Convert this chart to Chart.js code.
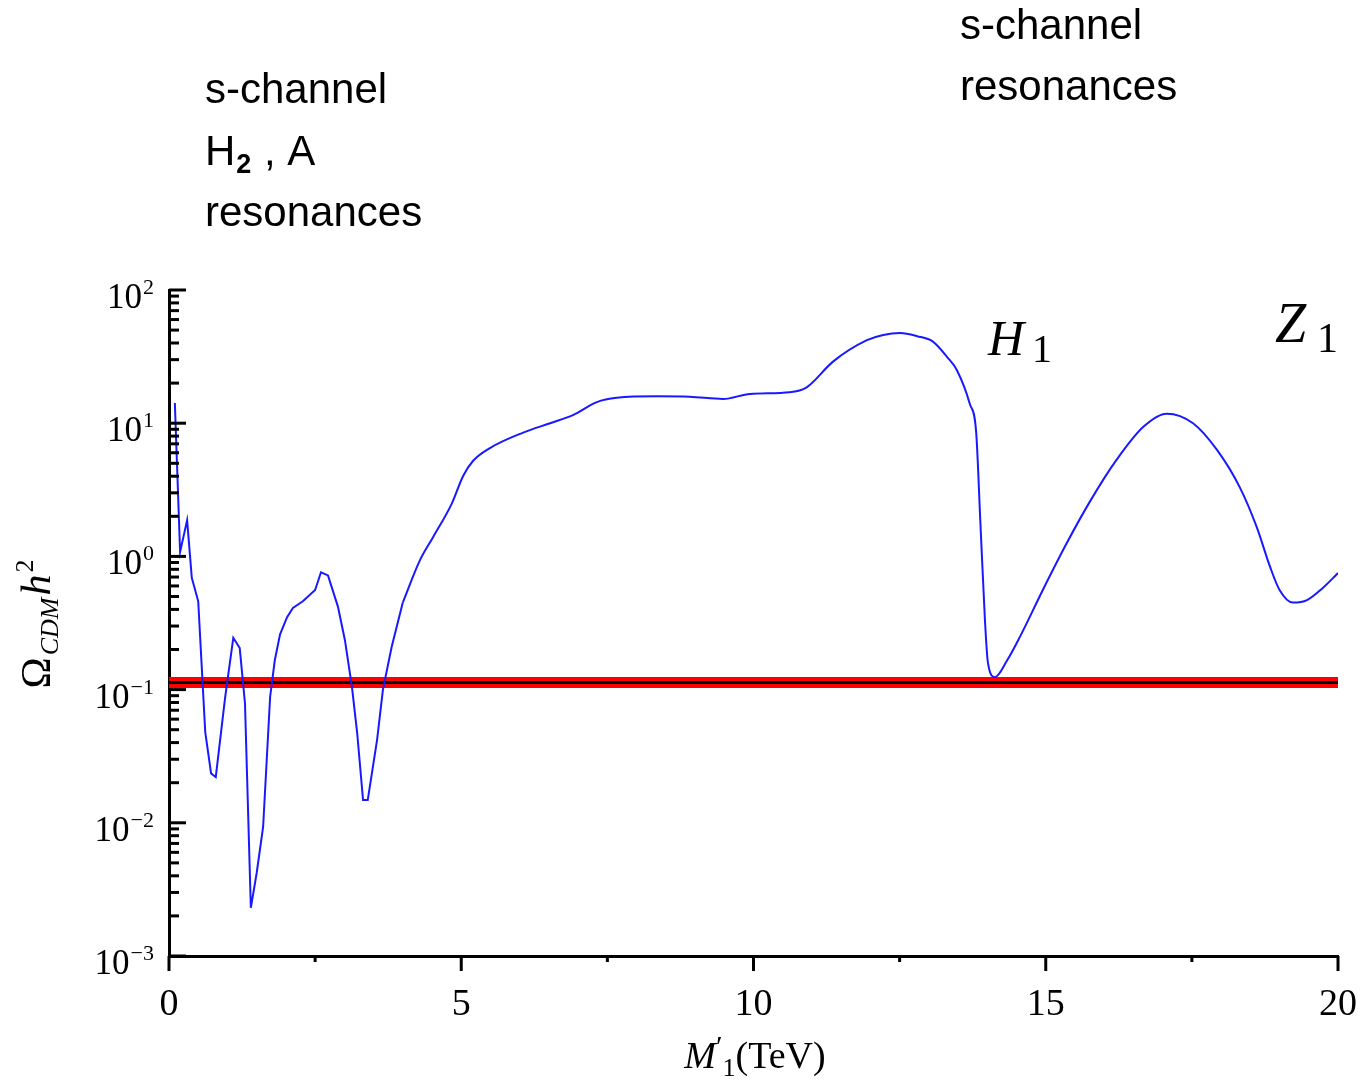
<!DOCTYPE html>
<html>
<head>
<meta charset="utf-8">
<script src="https://cdn.jsdelivr.net/npm/chart.js@4.4.0/dist/chart.umd.min.js"></script>
<style>
  html, body { margin: 0; padding: 0; background: #fff; }
  #wrap { width: 1371px; height: 1081px; position: relative; }
</style>
</head>
<body>
<div id="wrap"><canvas id="myChart" width="1371" height="1081"></canvas></div>
<script>
"use strict";

// relic density vs M1' (TeV)
const mass = [0.10, 0.19, 0.31, 0.39, 0.50, 0.62, 0.72, 0.80, 0.96, 1.10, 1.21, 1.30, 1.40, 1.50, 1.61,
    1.73, 1.81, 1.90, 2.02, 2.12, 2.29, 2.50, 2.60, 2.72, 2.89, 3.01, 3.13, 3.22, 3.32, 3.40, 3.56,
    3.66, 3.81, 4.00, 4.29, 4.52, 4.84, 5.03, 5.20, 5.49, 6.06, 6.52, 6.91, 7.32, 7.66, 8.35, 8.91,
    9.48, 9.94, 10.62, 10.91, 11.36, 11.94, 12.22, 12.51, 12.80, 13.07, 13.31, 13.48, 13.70, 13.81,
    13.88, 13.96, 14.01, 14.13, 14.34, 14.56, 14.95, 15.36, 15.76, 16.21, 16.67, 17.07, 17.52, 17.93,
    18.32, 18.61, 18.84, 19.00, 19.23, 19.47, 19.74, 20.00];
const omega = [14.2, 1.08, 1.87, 0.69, 0.46, 0.048, 0.0235, 0.022, 0.087, 0.245, 0.205, 0.079, 0.0023, 0.0042, 0.0093,
    0.088, 0.166, 0.26, 0.35, 0.41, 0.46, 0.56, 0.76, 0.72, 0.42, 0.235, 0.105, 0.047, 0.0148, 0.0148, 0.042,
    0.10, 0.21, 0.45, 0.93, 1.4, 2.5, 4.0, 5.2, 6.5, 8.5, 10, 11.5, 14.4, 15.5, 15.9, 15.8,
    15.2, 16.6, 17.1, 18.6, 29, 42, 46, 47.5, 45, 41, 31.5, 25, 14, 8.5,
    1.87, 0.33, 0.16, 0.124, 0.166, 0.25, 0.56, 1.26, 2.6, 5.3, 9.4, 11.8, 10, 6.3,
    3.3, 1.66, 0.83, 0.56, 0.45, 0.47, 0.58, 0.75];
// the scan is jagged below ~4 TeV and smooth above
const smoothFrom = 33;

// WMAP band
const wmapRange = [0, 20];
const wmapValue = 0.113;

const xMajorTicks = [0, 5, 10, 15, 20];
const xMinorTicks = [2.5, 7.5, 12.5, 17.5];
const yMajorTicks = [0.001, 0.01, 0.1, 1, 10, 100];
const yTickExps = ["\u22123", "\u22122", "\u22121", "0", "1", "2"];

const serif = '"Liberation Serif", "DejaVu Serif", serif';
const sans = '"Liberation Sans", Arial, sans-serif';

const axesPlugin = {
    id: "sciAxes",
    afterDraw(chart) {
        const ctx = chart.ctx;
        const xs = chart.scales.x, ys = chart.scales.y;
        const left = chart.chartArea.left, bottom = chart.chartArea.bottom;
        ctx.save();
        ctx.strokeStyle = "#000";
        ctx.lineWidth = 3;
        ctx.lineCap = "butt";
        function seg(x1, y1, x2, y2) {
            ctx.beginPath(); ctx.moveTo(x1, y1); ctx.lineTo(x2, y2); ctx.stroke();
        }
        // y ticks (inward)
        yMajorTicks.forEach(v => {
            const py = ys.getPixelForValue(v);
            seg(left, py, left + 17, py);
        });
        for (let d = -3; d < 2; d++) {
            for (let m = 2; m <= 9; m++) {
                const py = ys.getPixelForValue(m * Math.pow(10, d));
                seg(left, py, left + 10, py);
            }
        }
        // x ticks (downward)
        xMajorTicks.forEach(v => {
            const px = xs.getPixelForValue(v);
            seg(px, bottom, px, bottom + 15);
        });
        xMinorTicks.forEach(v => {
            const px = xs.getPixelForValue(v);
            seg(px, bottom, px, bottom + 6);
        });

        ctx.fillStyle = "#000";
        ctx.textBaseline = "alphabetic";
        // x tick labels
        ctx.font = "38px " + serif;
        ctx.textAlign = "center";
        xMajorTicks.forEach(v => {
            ctx.fillText(String(v), xs.getPixelForValue(v), bottom + 59);
        });
        // y tick labels 10^n
        yMajorTicks.forEach((v, i) => {
            const py = ys.getPixelForValue(v);
            ctx.font = "22px " + serif;
            const ew = ctx.measureText(yTickExps[i]).width;
            ctx.textAlign = "left";
            ctx.fillText(yTickExps[i], 154 - ew, py + 4);
            ctx.font = "35px " + serif;
            ctx.textAlign = "right";
            ctx.fillText("10", 153 - ew, py + 18);
        });

        // x title  M'_1(TeV)
        const parts = [
            ["M", "italic 38px " + serif, 0],
            ["\u2032", "30px " + serif, -12],
            ["1", "26px " + serif, 8],
            ["(TeV)", "38px " + serif, 0]
        ];
        drawParts(ctx, parts, 755, 1068, 0);

        // y title  Omega_CDM h^2
        const yparts = [
            ["\u03A9", "42px " + serif, 0],
            ["CDM", "italic 26px " + serif, 8],
            ["h", "italic 42px " + serif, 0],
            ["2", "26px " + serif, -17]
        ];
        ctx.save();
        ctx.translate(50, 624);
        ctx.rotate(-Math.PI / 2);
        drawParts(ctx, yparts, 0, 0, 2);
        ctx.restore();

        // resonance labels on the plot
        ctx.textAlign = "left";
        ctx.font = "italic 50px " + serif;
        ctx.fillText("H", 988, 355);
        ctx.font = "40px " + serif;
        ctx.fillText("1", 1032, 362);
        ctx.font = "italic 56px " + serif;
        ctx.fillText("Z", 1275, 342);
        ctx.font = "42px " + serif;
        ctx.fillText("1", 1317, 352);

        // annotations above
        ctx.font = "42px " + sans;
        ctx.fillText("s-channel", 205, 103);
        ctx.fillText("H", 205, 165);
        const hw = ctx.measureText("H").width;
        ctx.font = "bold 27px " + sans;
        ctx.fillText("2", 205 + hw + 1, 173);
        const sw = ctx.measureText("2").width;
        ctx.font = "42px " + sans;
        ctx.fillText(" , A", 205 + hw + sw + 2, 165);
        ctx.fillText("resonances", 205, 226);
        ctx.fillText("s-channel", 960, 39);
        ctx.fillText("resonances", 960, 100);
        ctx.restore();
    }
};

function drawParts(ctx, parts, cx, baseY, gap) {
    let total = 0;
    parts.forEach(p => { ctx.font = p[1]; total += ctx.measureText(p[0]).width + gap; });
    total -= gap;
    let x = cx - total / 2;
    ctx.textAlign = "left";
    parts.forEach(p => {
        ctx.font = p[1];
        ctx.fillText(p[0], x, baseY + p[2]);
        x += ctx.measureText(p[0]).width + gap;
    });
}

const points = mass.map((m, i) => ({x: m, y: omega[i]}));

const ctx = document.getElementById("myChart").getContext("2d");
const myChart = new Chart(ctx, {
    type: "line",
    data: {
        datasets: [
            {
                data: points.slice(0, smoothFrom + 1),
                borderColor: "rgb(25, 25, 255)",
                borderWidth: 2,
                pointRadius: 0,
                tension: 0,
                fill: false
            },
            {
                data: points.slice(smoothFrom),
                borderColor: "rgb(25, 25, 255)",
                borderWidth: 2,
                pointRadius: 0,
                cubicInterpolationMode: "monotone",
                fill: false
            },
            {
                data: wmapRange.map(m => ({x: m, y: wmapValue})),
                borderColor: "#000",
                borderWidth: 3,
                pointRadius: 0,
                fill: false
            },
            {
                data: wmapRange.map(m => ({x: m, y: wmapValue})),
                borderColor: "#ff0000",
                borderWidth: 11,
                pointRadius: 0,
                fill: false
            }
        ]
    },
    options: {
        responsive: false,
        animation: false,
        layout: {padding: {left: 0, top: 290, right: 33, bottom: 0}},
        plugins: {legend: {display: false}, tooltip: {enabled: false}},
        scales: {
            x: {
                type: "linear", min: 0, max: 20,
                grid: {display: false},
                border: {display: true, color: "#000", width: 3},
                ticks: {display: false},
                afterFit: s => { s.height = 125; }
            },
            y: {
                type: "logarithmic", min: 0.001, max: 100,
                grid: {display: false},
                border: {display: true, color: "#000", width: 3},
                ticks: {display: false},
                afterFit: s => { s.width = 169; }
            }
        }
    },
    plugins: [axesPlugin]
});
</script>
</body>
</html>
